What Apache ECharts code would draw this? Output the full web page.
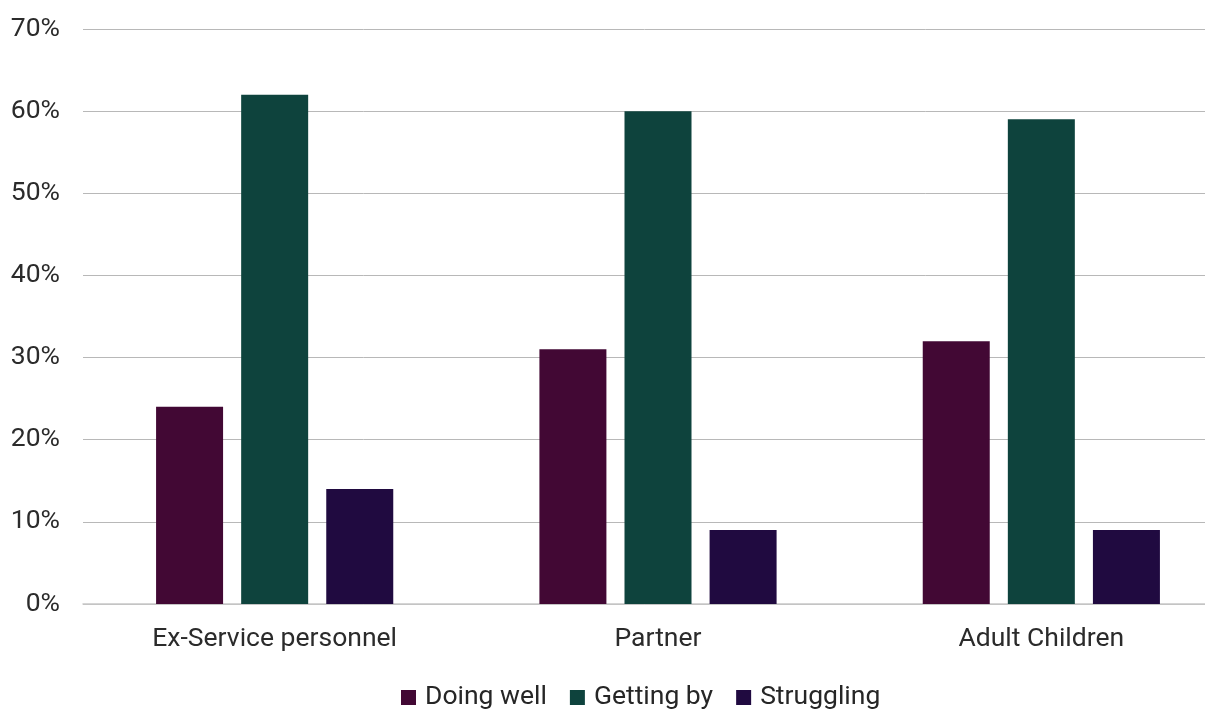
<!DOCTYPE html>
<html>
<head>
<meta charset="utf-8">
<script src="https://cdn.jsdelivr.net/npm/echarts@6/dist/echarts.min.js"></script>
<style>
  html, body { margin: 0; padding: 0; background: #fff; }
  #chart { width: 1205px; height: 709px; }
</style>
</head>
<body>
<div id="chart"></div>
<script>
// Share of each group by how they are managing (percent)
const categories = ['Ex-Service personnel', 'Partner', 'Adult Children'];
const doingWell = [24, 31, 32];
const gettingBy = [62, 60, 59];
const struggling = [14, 9, 9];
const yTicks = [0, 10, 20, 30, 40, 50, 60, 70];

const colors = ['#420834', '#0E433D', '#200A40'];
const font = 'Roboto, "Noto Sans", sans-serif';

const chart = echarts.init(document.getElementById('chart'), null, { renderer: 'canvas' });

function bar(name, data, color) {
  return {
    name: name,
    type: 'bar',
    data: data,
    barWidth: 67,
    barGap: '27%',
    itemStyle: { color: color },
    emphasis: { disabled: true }
  };
}

chart.setOption({
  animation: false,
  color: colors,
  grid: { left: 83, width: 1150, top: 29, bottom: 105, containLabel: false, outerBoundsMode: 'none' },
  legend: {
    top: 679,
    left: 396,
    itemWidth: 15,
    itemHeight: 15,
    itemGap: 23,
    icon: 'rect',
    textStyle: { fontFamily: font, fontSize: 26.5, color: '#262626', padding: [0, 0, 0, 4] },
    data: ['Doing well', 'Getting by', 'Struggling']
  },
  xAxis: {
    type: 'category',
    data: categories,
    axisLine: { show: true, lineStyle: { color: '#c8c8c8', width: 1.5 } },
    axisTick: { show: false },
    axisLabel: { fontFamily: font, fontSize: 26.5, color: '#2b2b2b', margin: 22 }
  },
  yAxis: {
    type: 'value',
    min: yTicks[0],
    max: yTicks[yTicks.length - 1],
    interval: 10,
    axisLine: { show: false },
    axisTick: { show: false },
    splitLine: { lineStyle: { color: '#b8b8b8', width: 1 } },
    axisLabel: {
      fontFamily: font, fontSize: 26.5, color: '#2b2b2b', margin: 23,
      formatter: v => v + '%'
    }
  },
  series: [
    bar('Doing well', doingWell, colors[0]),
    bar('Getting by', gettingBy, colors[1]),
    bar('Struggling', struggling, colors[2])
  ]
});
</script>
</body>
</html>
